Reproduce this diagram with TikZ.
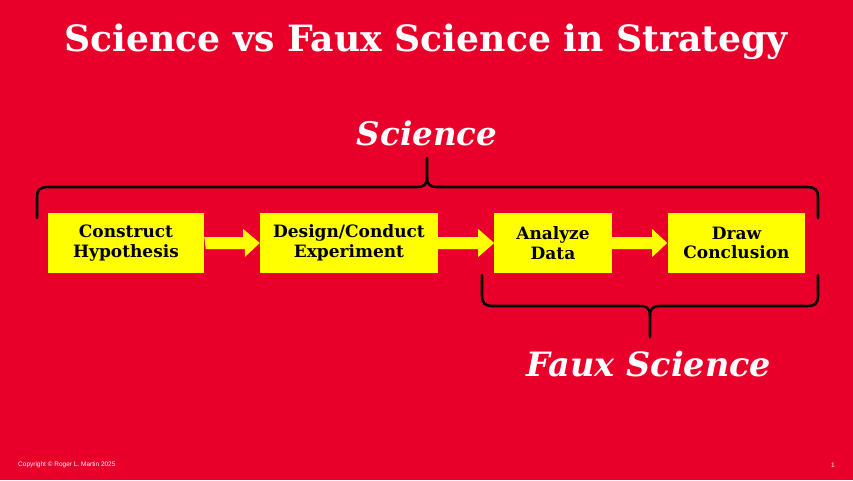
\documentclass[tikz,border=0pt]{standalone}
\usepackage{fontspec}
\setmainfont{DejaVu Serif}
\setsansfont{Liberation Sans}
\definecolor{bgred}{RGB}{232,0,42}
\definecolor{boxyellow}{RGB}{255,255,0}
\tikzset{
  stepbox/.style={fill=boxyellow, draw=none, inner sep=0pt, align=center,
    font=\fontsize{17}{19.5}\selectfont\bfseries, text=black},
  bracepath/.style={line width=2.6pt, black, line cap=round, line join=round},
  blockarrow/.style={fill=boxyellow, draw=none},
}
\begin{document}
\begin{tikzpicture}[x=1pt,y=-1pt]
\fill[bgred] (0,0) rectangle (853,480);
\useasboundingbox (0,0) rectangle (853,480);

\node[text=white, font=\fontsize{36.2}{40}\selectfont\bfseries] (title) at (426,42) {Science vs Faux Science in Strategy};
\node[text=white, font=\fontsize{32.5}{36}\selectfont\bfseries\itshape] (sci) at (427,133) {Science};
\node[text=white, font=\fontsize{33.5}{37}\selectfont\bfseries\itshape] (faux) at (649,364) {Faux Science};

\node[stepbox, minimum width=156pt, minimum height=60pt] (b1) at (126,243) {Construct\\Hypothesis};
\node[stepbox, minimum width=178pt, minimum height=60pt] (b2) at (349,243) {Design/Conduct\\Experiment};
\node[stepbox, minimum width=118pt, minimum height=60pt] (b3) at (553,243) {Analyze\\Data};
\node[stepbox, minimum width=137pt, minimum height=60pt] (b4) at (736.5,243) {Draw\\Conclusion};

% block arrows
\fill[blockarrow] (b1.east) ++(0,-6) -- ++(39,0) -- ++(0,-8) -- (b2.west) -- ++(-15,14) -- ++(0,-8) -- ++(-39,0) -- cycle;
\fill[blockarrow] (b2.east) ++(0,-6) -- ++(40,0) -- ++(0,-8) -- ++(16,14) -- ++(-16,14) -- ++(0,-8) -- ++(-40,0) -- cycle;
\fill[blockarrow] (b3.east) ++(0,-6) -- ++(40,0) -- ++(0,-8) -- ++(15,14) -- ++(-15,14) -- ++(0,-8) -- ++(-40,0) -- cycle;

% top brace
\coordinate (tl) at (37,218);
\coordinate (tr) at (818,218);
\coordinate (tt) at (427,158);
\draw[bracepath] (tl) -- (37,198) .. controls (37,189) and (40,187) .. (49,187)
  -- (416,187) .. controls (424,187) and (427,185) .. (427,177) -- (tt);
\draw[bracepath] (tr) -- (818,198) .. controls (818,189) and (815,187) .. (806,187)
  -- (438,187) .. controls (430,187) and (427,185) .. (427,177);

% bottom brace
\coordinate (bl) at (482,275);
\coordinate (br) at (818,275);
\coordinate (bt) at (650,337);
\draw[bracepath] (bl) -- (482,295) .. controls (482,304) and (485,306) .. (494,306)
  -- (639,306) .. controls (647,306) and (650,308) .. (650,316) -- (bt);
\draw[bracepath] (br) -- (818,295) .. controls (818,304) and (815,306) .. (806,306)
  -- (661,306) .. controls (653,306) and (650,308) .. (650,316);

\node[text=white, font=\sffamily\fontsize{6.5}{7}\selectfont, anchor=west, inner sep=0pt] (copy) at (18,465) {Copyright © Roger L. Martin 2025};
\node[text=white, font=\sffamily\fontsize{6.5}{7}\selectfont, inner sep=0pt] (pg) at (833,465) {1};
\end{tikzpicture}
\end{document}
